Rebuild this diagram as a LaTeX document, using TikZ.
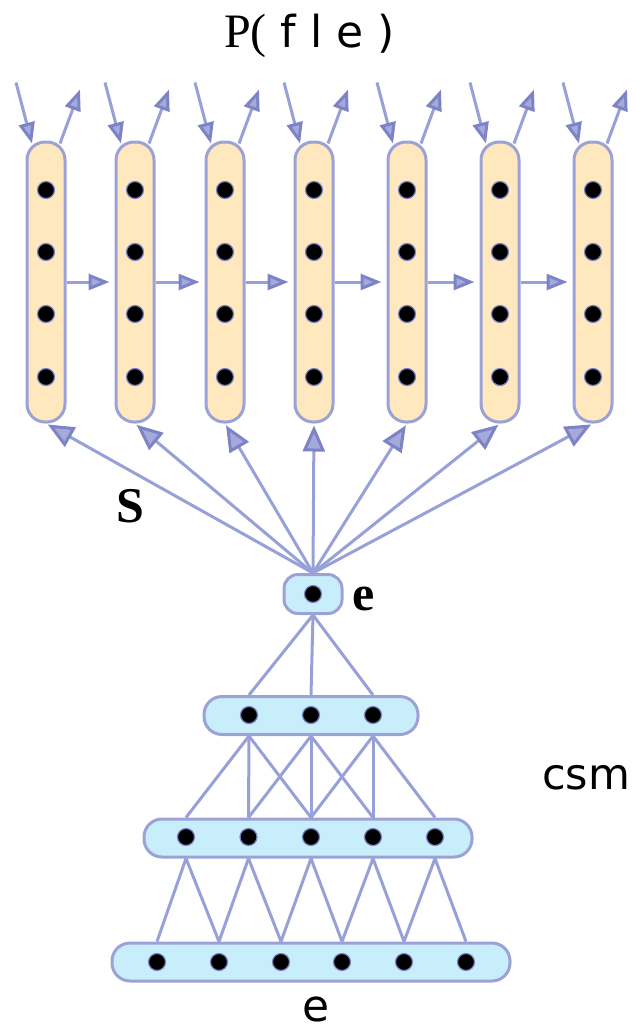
\documentclass[tikz,border=0pt]{standalone}
\usepackage{fontspec}
\setmainfont{Liberation Serif}
\newfontfamily\sansf{DejaVu Sans}
\usetikzlibrary{arrows.meta,calc}
\definecolor{lineC}{HTML}{98A0D8}
\definecolor{tipC}{HTML}{7C84C6}
\definecolor{tipF}{HTML}{A4AADC}
\definecolor{orangeF}{HTML}{FFE7BE}
\definecolor{blueF}{HTML}{C8EEFC}
\definecolor{boxC}{HTML}{9CA2D6}
\definecolor{dotC}{HTML}{7C84C4}
\tikzset{
  colbox/.style={draw=boxC, line width=3pt, fill=orangeF, rounded corners=18pt,
    minimum width=38pt, minimum height=280pt, inner sep=0pt},
  layerbox/.style={draw=boxC, line width=3pt, fill=blueF, rounded corners=18pt,
    minimum height=38pt, inner sep=0pt},
  dotn/.style={circle, fill=black, draw=dotC, line width=1.2pt, minimum size=17pt, inner sep=0pt},
  link/.style={draw=lineC, line width=3pt},
  arr/.style={link, line join=round, -{Triangle[length=21pt,width=16pt,color=tipC,fill=tipF]}},
  fanarr/.style={link, line join=round, -{Triangle[length=26pt,width=22pt,color=tipC,fill=tipF]}},
  lbl/.style={inner sep=0pt}
}
\begin{document}
\begin{tikzpicture}[x=1pt,y=-1pt]
\useasboundingbox (0,0) rectangle (636,1031);
% columns
\foreach \i/\x in {1/46,2/135,3/225,4/314,5/407,6/500,7/593}{
  \node[colbox] (c\i) at (\x,282) {};
  \foreach \j/\y in {1/190,2/252,3/314,4/377}
    \node[dotn] (c\i-\j) at (\x,\y) {};
  \coordinate (in\i) at ($(c\i.north)+(-30,-58)$);
  \coordinate (tin\i) at ($(c\i.north)+(-14,3)$);
  \coordinate (sout\i) at ($(c\i.north)+(14,3)$);
  \coordinate (out\i) at ($(c\i.north)+(34,-51)$);
}
% e node and layers
\node[layerbox, minimum width=58pt, minimum height=39pt, rounded corners=14pt] (enode) at (313,594) {};
\node[dotn] (ed) at (313,594) {};
\node[layerbox, minimum width=214pt] (L1) at (311,715.5) {};
\foreach \j/\x in {1/249,2/311,3/373}
  \node[dotn] (L1-\j) at (\x,715) {};
\node[layerbox, minimum width=328pt] (L2) at (308,838) {};
\foreach \j/\x in {1/186,2/248.5,3/311,4/373,5/435}
  \node[dotn] (L2-\j) at (\x,837) {};
\node[layerbox, minimum width=398pt] (L3) at (311,962) {};
\foreach \j/\x in {1/157,2/219,3/281,4/342,5/404,6/466}
  \node[dotn] (L3-\j) at (\x,962) {};
% top arrows
\foreach \i in {1,...,7}{
  \draw[arr] (in\i) -- (tin\i);
  \draw[arr] (sout\i) -- (out\i);
}
% horizontal arrows
\foreach \i in {1,...,6}{
  \pgfmathtruncatemacro\k{\i+1}
  \draw[arr, shorten >=5pt] (c\i.east) -- (c\k.west);
}
% fan arrows
\foreach \i in {1,...,7}
  \draw[fanarr, shorten >=2pt] (enode.north) -- (c\i.south);
% layer connections
\foreach \j in {1,2,3}
  \draw[link] (enode.south) -- (L1-\j |- L1.north);
\foreach \j in {1,2,3}{
  \foreach \d in {0,1,2}{
    \pgfmathtruncatemacro\k{\j+\d}
    \draw[link] (L1-\j |- L1.south) -- (L2-\k |- L2.north);
  }
}
\foreach \j in {1,...,5}{
  \foreach \d in {0,1}{
    \pgfmathtruncatemacro\k{\j+\d}
    \draw[link] (L2-\j |- L2.south) -- (L3-\k |- L3.north);
  }
}
% labels
\node[lbl, anchor=base west] (title) at (224,47) {\fontsize{48}{50}\selectfont P(\sansf\fontsize{44}{50}\selectfont{} f l e )};
\node[lbl, anchor=base] (S) at (130,522) {\fontsize{50}{52}\selectfont\bfseries S};
\node[lbl, anchor=base west] (elab) at (352,610) {\fontsize{50}{52}\selectfont\bfseries e};
\node[lbl, anchor=base] (csm) at (586,789) {\sansf\fontsize{43}{45}\selectfont csm};
\node[lbl, anchor=base] (ebot) at (316,1021) {\sansf\fontsize{44}{46}\selectfont e};
\end{tikzpicture}
\end{document}
